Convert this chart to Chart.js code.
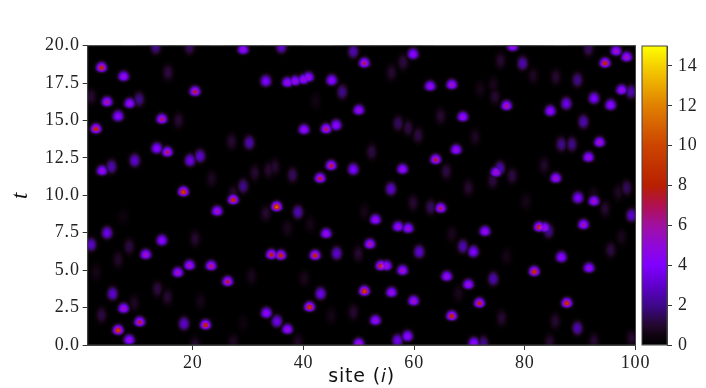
<!DOCTYPE html>
<html><head><meta charset="utf-8">
<style>html,body{margin:0;padding:0;background:#fff;width:706px;height:388px;overflow:hidden}
canvas{position:absolute;top:0}</style>
<script src="https://cdn.jsdelivr.net/npm/chart.js@4"></script></head>
<body><canvas id="main" width="706" height="388" style="left:0"></canvas>
<canvas id="bar" width="70" height="388" style="left:636px"></canvas>
<script>
const xTicks=[20,40,60,80,100];
const yTicks=[0,2.5,5,7.5,10,12.5,15,17.5,20];
const barTicks=[0,2,4,6,8,10,12,14];
const sites=[
3.5,7.5,15.5,13.3,19.4,29.1,20.4,33.2,4.5,8.6,
10.3,1.6,6.5,14.4,17.4,2.5,27,30.2,13.5,15.4,
19.5,21.3,9.5,3.6,5.3,23.4,31.2,29.1,33.7,18.3,
27.3,36,49,51,59.8,58,55.9,37.1,38.5,40,
40.9,45.1,47,62.9,66.8,42.2,50,64.8,40.1,44.1,
45.9,57.1,58.9,60.7,52.3,67.6,63.9,34.8,38,45,
43,49,57.9,65.8,55.8,77.8,75.6,79.6,81.5,91.5,
94.5,96.5,98.4,71.9,74.3,74.6,76.7,85.6,89.5,97.5,
99.2,92.5,87.5,84.6,95.5,90.6,68.8,71,86.6,88.5,
93.5,91.5,74.8,75.5,74.2,77.7,83.5,85.6,69.8,98.4,
89.6,96.9,92.4,27.3,24.4,33.2,7.4,4.5,14.4,20.4,
1.6,8.5,11.5,6.5,2.5,19.4,17.3,23.3,26.3,30.6,
13.6,15.4,5.5,9.4,21.4,7.5,33.3,3.5,10.4,6.5,
18.4,22.3,8.5,20.4,27.3,29.1,35.15,39,51,53,
59.8,63,64.8,37.1,41.2,44.1,57.1,58.9,66.8,52,
46,49.9,60.9,34.2,35.9,42.1,54,55,57.9,65.9,
40.1,43.1,51,55.9,59.9,41.1,49,45,35.2,37.1,
53,66.8,50,57,58.8,39,92.5,94.5,99.3,80.2,
72.8,82.6,83.6,84.3,90.6,68.8,70.7,97.5,95.5,76.7,
86.6,91.6,81.7,74.3,69.8,68,71.8,87.6,75.8,85.5,
89.5,84.5,70.8,72.5,92.5,99.3];
const times=[
18.5,17.9,18.2,19.9,19.9,19.7,16.9,17.6,16.2,16.1,
16.4,16.6,15.25,15.05,15,14.4,13.6,13.5,13.1,12.85,
12.3,12.6,12.3,11.6,11.9,11.1,11.5,10.6,11.7,10.2,
10.1,19.9,19.6,18.8,19.4,18.9,18.2,17.5,17.6,17.7,
17.85,17.65,16.9,17.25,17.35,16.3,15.65,15.3,14.35,14.4,
14.65,14.8,14.5,14,12.9,13,12.35,11.9,11.35,11.95,
11.1,11.7,11.7,11.6,10.4,19.9,19,18.8,18,19.8,
18.8,19.6,19.2,17.1,17.4,16.6,15.95,17.9,17.7,17,
16.9,16.45,16.1,15.6,16,14.9,15.2,13.9,13.4,13.4,
13.5,12.5,11.5,11.8,11,11.3,12,11.1,10.5,10.5,
9.8,10.2,10,9.66,8.9,8.8,8.57,7.46,6.95,7.1,
6.68,6.57,6,5.7,4.85,5.28,4.8,5.25,4.2,4.6,
3.74,3.2,3.4,2.8,2.9,2.4,2.1,2,1.5,0.95,
1.4,1.3,0.3,0,0.2,1.45,9.2,8.86,8.9,8.33,
9.5,9.2,9.1,7.8,8.06,7.4,7.86,7.75,7.4,6.7,
6.1,6.1,6.2,6,5.95,5.95,5.25,5.25,4.94,4.54,
4.45,3.4,3.56,3.47,2.9,2.5,2.2,1.96,1.55,1,
1.6,1.9,0.06,0.27,0.55,0.2,9.57,9.1,8.64,9.6,
7.55,7.84,7.8,7.6,8,6.57,6.2,7.2,6.35,5.9,
5.83,5.1,4.87,4.4,4,3.45,2.76,2.76,1.8,1.6,
1.1,0.2,0.1,0.1,0.27,0.45];
const peaks=[
8,5,1.2,2,1.5,5,7,4,6,5,
2,1,4.5,6.5,1,8,1,2.5,4.5,6.5,
3.5,3,3,5,2.5,0.8,1,2,1,9,
1,3,2.5,6.5,4.5,1.2,1,5,5,5,
5,4.5,2,5,5.5,0.5,5,1,5,6.5,
4.5,1.5,1.2,1.2,1.2,5,7,1,1.5,7,
7,4,5,1.2,3,5,1,2.5,0.8,1.5,
8,5.5,5.5,0.6,0.7,1,6,1,2,5,
2.5,4,3.5,4.5,4.5,2.5,5,0.8,2,2,
5.5,5,5.5,2.5,1.2,1.2,0.9,5.5,1,1.5,
4,0.8,0.7,8,5.5,1,0.4,3.5,4.5,1,
3,1.2,5.5,0.9,0.6,5.5,5.5,6.5,7,0.7,
1.2,1,3,0.8,0.6,5.5,4.5,1.2,7,9,
3,8,5,1,0.8,0.4,10,2.5,0.6,5,
1,1.5,6.5,0.7,0.6,5,5,5,0.7,6,
3,1,3,7.5,8,8,8,5,5.5,5,
0.7,3.5,9,5,5.5,8.5,1,0.6,3.5,5,
5,8,5.5,3.5,4.5,0.8,5.5,1,3,0.6,
5,8,5,2,5.5,2.5,4,0.7,1.2,0.6,
4.5,5,8.5,2.5,5,0.7,7.5,8.5,1,1,
2.5,1,4.5,2,1,1];
const vMax=15;
const serif='"Liberation Serif", serif';
const rampValues=[0,0.5,1,2,3,4,5,6,7,8,10,12,14,15];
const rampColors=[[0,0,0],[16,3,16],[36,8,48],[62,8,140],[96,0,204],[128,0,255],[144,8,216],[160,16,160],[176,16,80],[184,32,0],[204,68,0],[224,128,0],[245,208,0],[255,255,0]];

function cmap(v){
  v=Math.min(vMax,Math.max(0,v));
  let i=0;while(i<rampValues.length-2&&v>rampValues[i+1])i++;
  const f=(v-rampValues[i])/(rampValues[i+1]-rampValues[i]);
  return rampColors[i].map((c,k)=>Math.round(c+(rampColors[i+1][k]-c)*f));
}
const stamps=new Map();
function stamp(p){
  if(stamps.has(p))return stamps.get(p);
  const k=Math.min(1,Math.max(0,(p-1)/4));
  const sx=5.2, up=8-2.2*k, dn=8-4.2*k;
  const body=Math.min(p,4.5), core=(p-body)*1.25;
  const W=41,H=61,c=document.createElement('canvas');c.width=W;c.height=H;
  const g=c.getContext('2d'),im=g.createImageData(W,H);
  for(let j=0;j<H;j++)for(let i=0;i<W;i++){
    const dx=i-(W-1)/2,dy=j-(H-1)/2,sy=dy<0?up:dn;
    const r2=(dx*dx)/(sx*sx)+(dy*dy)/(sy*sy);
    const v=body*Math.exp(-Math.pow(r2,1.3))+core*Math.exp(-r2*2.5);
    const [r,gg,b]=cmap(v),o=(j*W+i)*4;
    im.data[o]=r;im.data[o+1]=gg;im.data[o+2]=b;im.data[o+3]=255;
  }
  g.putImageData(im,0,0);stamps.set(p,c);return c;
}
const spacing={id:'spacing',beforeDraw(ch){ch.ctx.letterSpacing='0.8px';}};
const heat={id:'heat',
  beforeDatasetDraw(ch){const a=ch.chartArea,x=ch.ctx;x.fillStyle='#000';x.fillRect(a.left,a.top,a.width,a.height);x.globalCompositeOperation='lighten';},
  afterDatasetDraw(ch){ch.ctx.globalCompositeOperation='source-over';},
  afterDraw(ch){const a=ch.chartArea,x=ch.ctx;x.save();x.strokeStyle='#444';x.lineWidth=1;x.strokeRect(a.left,a.top,a.width,a.height);x.restore();}
};
new Chart(document.getElementById('main'),{
  type:'scatter',
  data:{datasets:[{data:sites.map((s,i)=>({x:s,y:times[i]})),
    pointStyle:c=>stamp(peaks[c.dataIndex]),pointRadius:1,clip:0}]},
  plugins:[spacing,heat],
  options:{responsive:false,animation:false,events:[],
    layout:{padding:{top:45.7,right:70.5,bottom:0,left:0}},
    plugins:{legend:{display:false},tooltip:{enabled:false}},
    scales:{
      x:{type:'linear',min:1,max:100,
        afterBuildTicks:a=>{a.ticks=xTicks.map(v=>({value:v}));},
        afterFit:a=>{a.height=43;a.paddingRight=0;a.paddingLeft=0;},
        grid:{drawOnChartArea:false,tickLength:5,tickColor:'#333',tickWidth:1},
        border:{color:'#444'},
        ticks:{maxRotation:0,autoSkip:false,color:'#222',padding:2,font:{family:serif,size:18}},
        title:{display:true,text:'site (𝑖)',color:'#111',padding:{top:-9,bottom:0},font:{family:'"DejaVu Sans", sans-serif',size:19}}},
      y:{type:'linear',min:0,max:20,
        afterBuildTicks:a=>{a.ticks=yTicks.map(v=>({value:v}));},
        afterFit:a=>{a.width=87.7;a.paddingTop=0;a.paddingBottom=0;},
        grid:{drawOnChartArea:false,tickLength:5,tickColor:'#333',tickWidth:1},
        border:{color:'#444'},
        ticks:{autoSkip:false,color:'#222',padding:3,callback:v=>v.toFixed(1),font:{family:serif,size:18}},
        title:{display:true,text:'t',color:'#111',padding:{top:7,bottom:0},font:{family:serif,size:23,style:'italic'}}}
    }}
});
new Chart(document.getElementById('bar'),{
  type:'bar',
  data:{labels:['v'],datasets:[{data:[[0,vMax]],barPercentage:1,categoryPercentage:1,borderWidth:0,
    backgroundColor:c=>{
      const a=c.chart.chartArea;if(!a)return '#000';
      const g=c.chart.ctx.createLinearGradient(0,a.bottom,0,a.top);
      rampValues.forEach((v,i)=>g.addColorStop(v/vMax,`rgb(${rampColors[i].join(',')})`));
      return g;}}]},
  plugins:[spacing,{id:'frame',afterDraw(ch){const a=ch.chartArea,x=ch.ctx;x.save();x.strokeStyle='#444';x.lineWidth=1;x.strokeRect(a.left,a.top,a.width,a.height);x.restore();}}],
  options:{responsive:false,animation:false,events:[],
    layout:{padding:{top:46,left:6,right:0,bottom:43}},
    plugins:{legend:{display:false},tooltip:{enabled:false}},
    scales:{
      x:{display:false},
      y:{position:'right',min:0,max:vMax,
        afterBuildTicks:a=>{a.ticks=barTicks.map(v=>({value:v}));},
        afterFit:a=>{a.width=39;a.paddingTop=0;a.paddingBottom=0;},
        grid:{drawOnChartArea:false,tickLength:5,tickColor:'#333'},
        border:{color:'#444'},
        ticks:{autoSkip:false,color:'#222',padding:6,font:{family:serif,size:18}}}
    }}
});
</script></body></html>
